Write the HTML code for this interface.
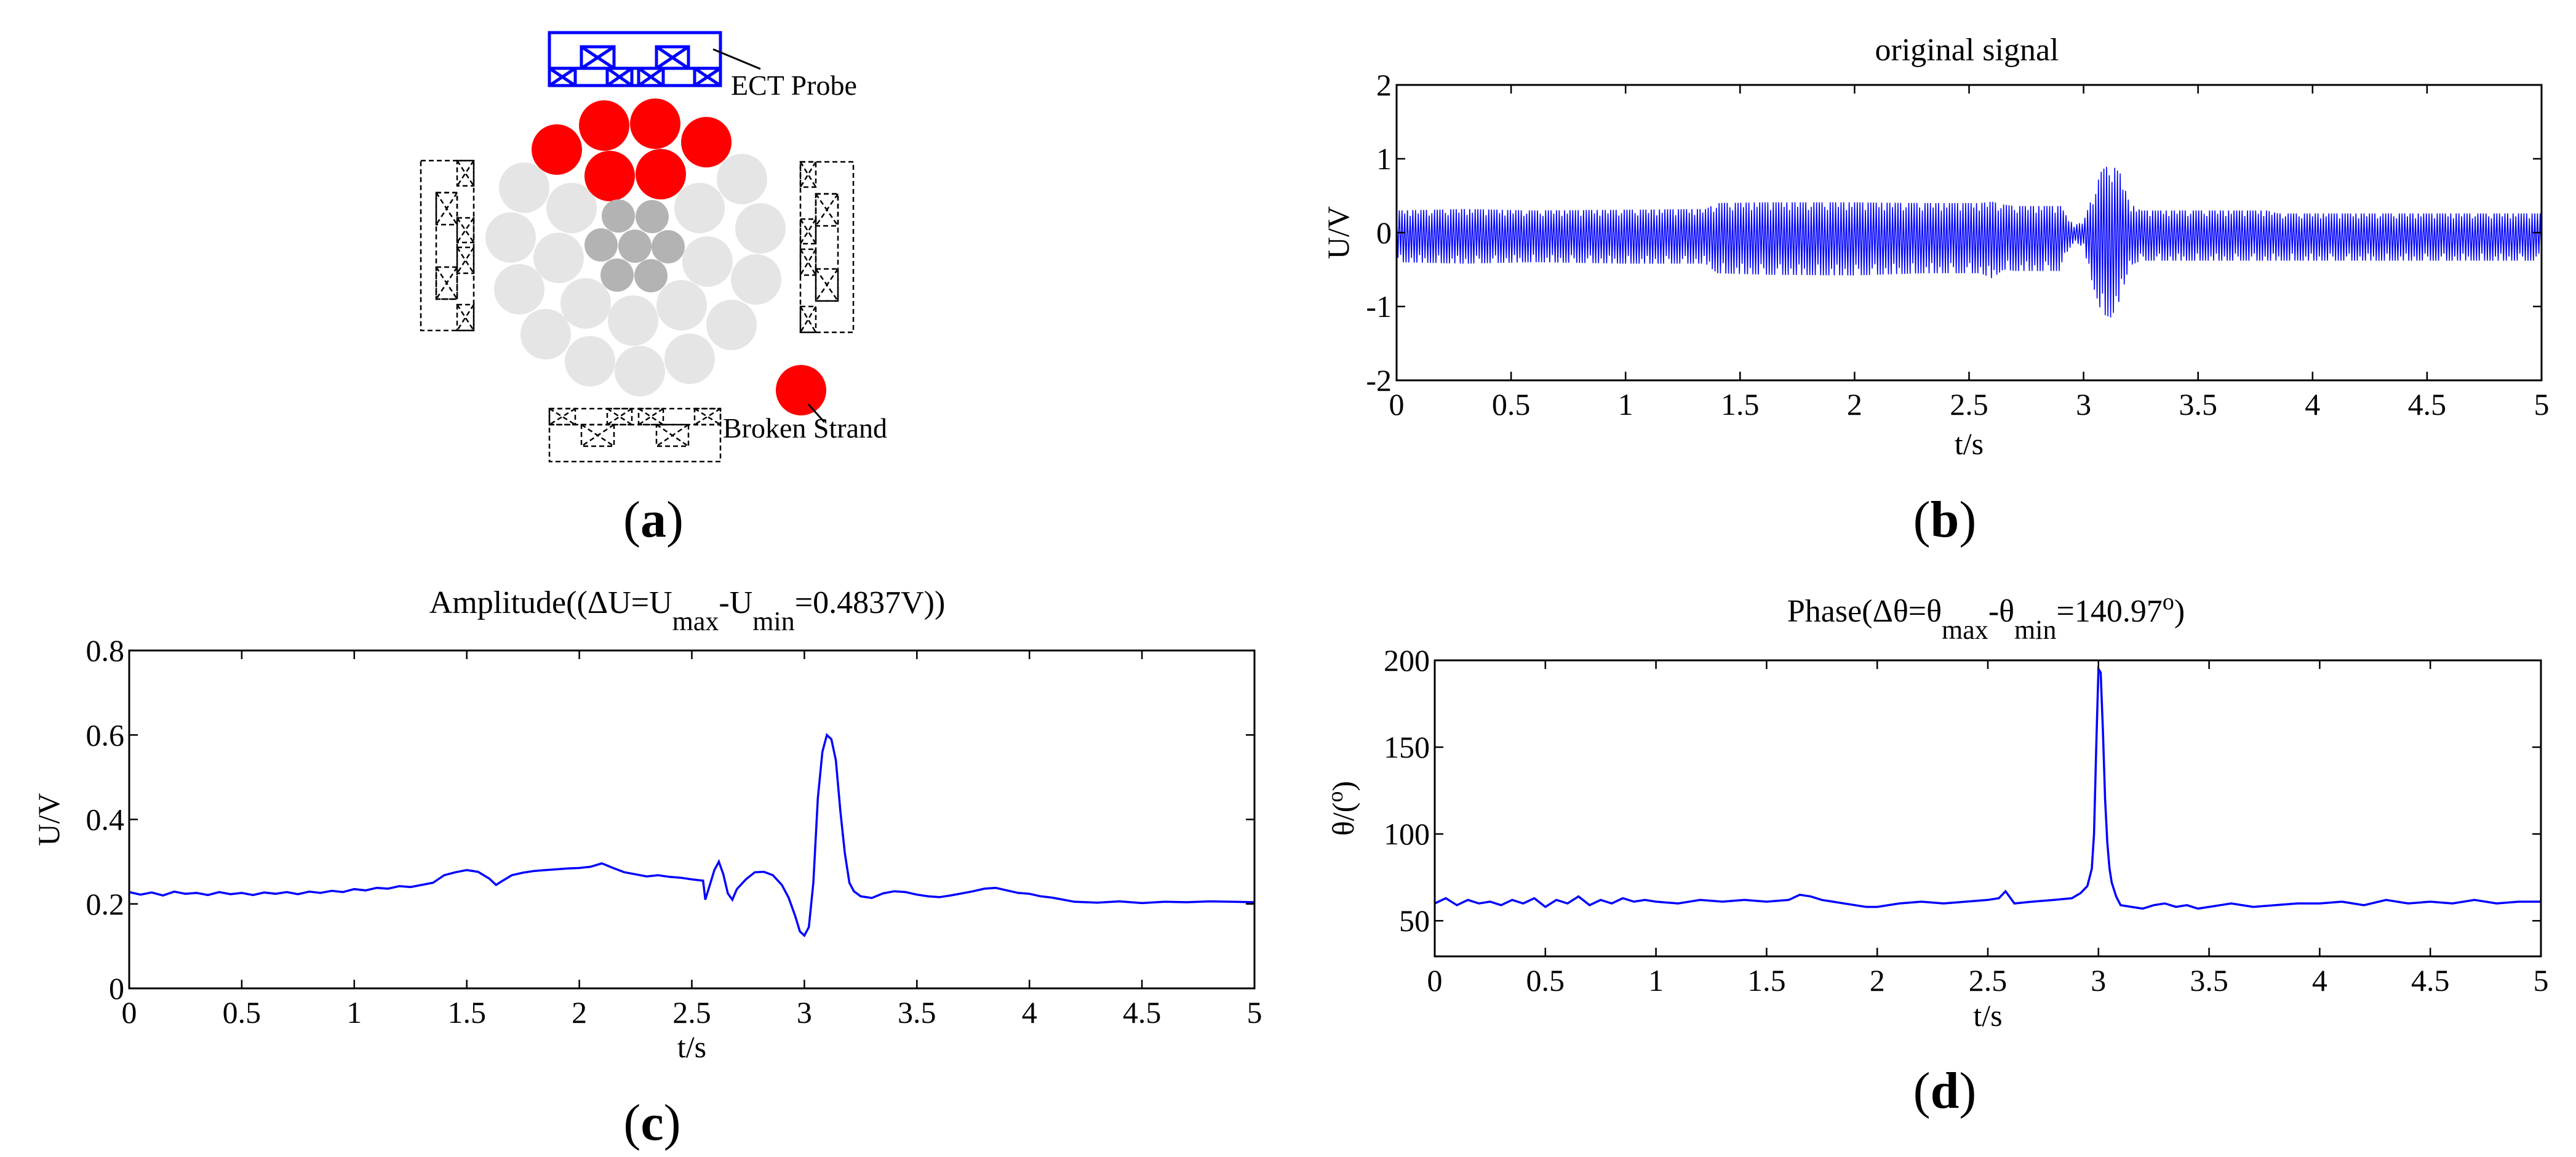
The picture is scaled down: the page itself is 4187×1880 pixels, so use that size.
<!DOCTYPE html>
<html><head><meta charset="utf-8"><style>
html,body{margin:0;padding:0;background:#fff}
svg{display:block}
text{font-family:"Liberation Serif",serif;fill:#000}
</style></head><body>
<svg id="fig" width="4187" height="1880" viewBox="0 0 4187 1880" xmlns="http://www.w3.org/2000/svg">
<g id="diagram">
  <g fill="none" stroke="#0000ff" stroke-width="5">
    <rect x="893" y="53" width="278" height="86"/>
    <line x1="893" y1="111" x2="1171" y2="111"/>
    <rect x="945" y="76" width="53" height="35"/><line x1="945" y1="76" x2="998" y2="111"/><line x1="998" y1="76" x2="945" y2="111"/>
    <rect x="1067" y="76" width="52" height="35"/><line x1="1067" y1="76" x2="1119" y2="111"/><line x1="1119" y1="76" x2="1067" y2="111"/>
    <rect x="893" y="111" width="42" height="28"/><line x1="893" y1="111" x2="935" y2="139"/><line x1="935" y1="111" x2="893" y2="139"/>
    <rect x="987" y="111" width="40" height="28"/><line x1="987" y1="111" x2="1027" y2="139"/><line x1="1027" y1="111" x2="987" y2="139"/>
    <rect x="1038" y="111" width="40" height="28"/><line x1="1038" y1="111" x2="1078" y2="139"/><line x1="1078" y1="111" x2="1038" y2="139"/>
    <rect x="1129" y="111" width="42" height="28"/><line x1="1129" y1="111" x2="1171" y2="139"/><line x1="1171" y1="111" x2="1129" y2="139"/>
  </g>
  <line x1="1159" y1="80" x2="1236" y2="112" stroke="#000" stroke-width="3"/>
  <text x="1188" y="154" font-size="46">ECT Probe</text>
  <g id="strands"></g>
  <g fill="none" stroke="#000" stroke-width="2.5" stroke-dasharray="8,5">
    <rect x="684" y="261" width="86" height="276"/>
    <rect x="709" y="313" width="34" height="173"/>
    <rect x="709" y="313" width="34" height="52"/><line x1="709" y1="313" x2="743" y2="365"/><line x1="743" y1="313" x2="709" y2="365"/>
    <rect x="709" y="434" width="34" height="52"/><line x1="709" y1="434" x2="743" y2="486"/><line x1="743" y1="434" x2="709" y2="486"/>
    <rect x="743" y="261" width="27" height="41"/><line x1="743" y1="261" x2="770" y2="302"/><line x1="770" y1="261" x2="743" y2="302"/>
    <rect x="743" y="354" width="27" height="40"/><line x1="743" y1="354" x2="770" y2="394"/><line x1="770" y1="354" x2="743" y2="394"/>
    <rect x="743" y="402" width="27" height="42"/><line x1="743" y1="402" x2="770" y2="444"/><line x1="770" y1="402" x2="743" y2="444"/>
    <rect x="743" y="495" width="27" height="42"/><line x1="743" y1="495" x2="770" y2="537"/><line x1="770" y1="495" x2="743" y2="537"/>
  </g>
  <g fill="none" stroke="#000" stroke-width="2.5" stroke-dasharray="8,5">
    <rect x="1301" y="263" width="86" height="277"/>
    <rect x="1326" y="315" width="36" height="174"/>
    <rect x="1326" y="315" width="36" height="52"/><line x1="1326" y1="315" x2="1362" y2="367"/><line x1="1362" y1="315" x2="1326" y2="367"/>
    <rect x="1326" y="437" width="36" height="52"/><line x1="1326" y1="437" x2="1362" y2="489"/><line x1="1362" y1="437" x2="1326" y2="489"/>
    <rect x="1301" y="263" width="25" height="41"/><line x1="1301" y1="263" x2="1326" y2="304"/><line x1="1326" y1="263" x2="1301" y2="304"/>
    <rect x="1301" y="356" width="25" height="40"/><line x1="1301" y1="356" x2="1326" y2="396"/><line x1="1326" y1="356" x2="1301" y2="396"/>
    <rect x="1301" y="405" width="25" height="42"/><line x1="1301" y1="405" x2="1326" y2="447"/><line x1="1326" y1="405" x2="1301" y2="447"/>
    <rect x="1301" y="498" width="25" height="42"/><line x1="1301" y1="498" x2="1326" y2="540"/><line x1="1326" y1="498" x2="1301" y2="540"/>
  </g>
  <g fill="none" stroke="#000" stroke-width="2.5" stroke-dasharray="8,5">
    <rect x="893" y="664" width="278" height="86"/>
    <line x1="893" y1="690" x2="1171" y2="690"/>
    <rect x="893" y="664" width="42" height="26"/><line x1="893" y1="664" x2="935" y2="690"/><line x1="935" y1="664" x2="893" y2="690"/>
    <rect x="987" y="664" width="40" height="26"/><line x1="987" y1="664" x2="1027" y2="690"/><line x1="1027" y1="664" x2="987" y2="690"/>
    <rect x="1038" y="664" width="40" height="26"/><line x1="1038" y1="664" x2="1078" y2="690"/><line x1="1078" y1="664" x2="1038" y2="690"/>
    <rect x="1129" y="664" width="42" height="26"/><line x1="1129" y1="664" x2="1171" y2="690"/><line x1="1171" y1="664" x2="1129" y2="690"/>
    <rect x="945" y="690" width="53" height="35"/><line x1="945" y1="690" x2="998" y2="725"/><line x1="998" y1="690" x2="945" y2="725"/>
    <rect x="1067" y="690" width="52" height="35"/><line x1="1067" y1="690" x2="1119" y2="725"/><line x1="1119" y1="690" x2="1067" y2="725"/>
  </g>
  <line x1="1314" y1="657" x2="1340" y2="686" stroke="#000" stroke-width="3"/>
  <text x="1175" y="711" font-size="46">Broken Strand</text>
  <text x="1062" y="872" font-size="84" text-anchor="middle">(<tspan font-weight="bold">a</tspan>)</text>
</g>
<g id="plots"></g>
</svg>
<script>
const lightStrands=[[852,305],[929,338],[830,386],[908,419],[844,470],[952,493],[887,543],[959,587],[1029,521],[1040,603],[1108,496],[1121,583],[1189,528],[1229,454],[1236,371],[1206,291],[1137,338],[1150,425]];
const darkStrands=[[1005,351],[1060,352],[977,398],[1032,400],[1086,401],[1003,447],[1058,448]];
const redStrands=[[905,243],[982,204],[1065,201],[1148,231],[991,286],[1074,283]];
const NS='http://www.w3.org/2000/svg';
function mk(tag,attrs,parent){const e=document.createElementNS(NS,tag);for(const k in attrs)e.setAttribute(k,attrs[k]);parent.appendChild(e);return e;}
const sg=document.getElementById('strands');
lightStrands.forEach(p=>{const c=mk('circle',{cx:p[0],cy:p[1],r:41,fill:'#e5e5e5'},sg);

});
redStrands.forEach(p=>{const c=mk('circle',{cx:p[0],cy:p[1],r:41,fill:'#ff0000'},sg);

});
darkStrands.forEach(p=>{const c=mk('circle',{cx:p[0],cy:p[1],r:27,fill:'#b3b3b3'},sg);

});
{const c=mk('circle',{cx:1302,cy:634,r:41,fill:'#ff0000'},sg);

}

const xTicks=[0,0.5,1,1.5,2,2.5,3,3.5,4,4.5,5];
const xTickLabels=['0','0.5','1','1.5','2','2.5','3','3.5','4','4.5','5'];
const sigT=[0,0.3,0.6,1.0,1.35,1.4,1.6,2.0,2.3,2.55,2.6,2.65,2.7,2.9,2.93,2.96,3.0,3.04,3.08,3.12,3.16,3.2,3.25,3.3,3.8,3.85,4.2,4.6,5.0];
const sigUpper=[0.30,0.32,0.30,0.31,0.32,0.40,0.41,0.41,0.40,0.40,0.42,0.38,0.36,0.36,0.20,0.10,0.15,0.50,0.85,0.93,0.80,0.40,0.30,0.30,0.30,0.26,0.26,0.26,0.26];
const sigLower=[-0.40,-0.42,-0.40,-0.42,-0.42,-0.55,-0.57,-0.58,-0.55,-0.55,-0.62,-0.50,-0.52,-0.52,-0.25,-0.12,-0.20,-0.70,-1.10,-1.15,-0.90,-0.45,-0.38,-0.38,-0.38,-0.38,-0.38,-0.38,-0.38];
const bYTicks=[-2,-1,0,1,2];
const bYTickLabels=['-2','-1','0','1','2'];
const ampT=[0,0.05,0.1,0.15,0.2,0.25,0.3,0.35,0.4,0.45,0.5,0.55,0.6,0.65,0.7,0.75,0.8,0.85,0.9,0.95,1.0,1.05,1.1,1.15,1.2,1.25,1.3,1.35,1.4,1.45,1.5,1.55,1.6,1.63,1.66,1.7,1.75,1.8,1.85,1.9,1.95,2.0,2.05,2.1,2.15,2.2,2.25,2.3,2.35,2.4,2.45,2.5,2.55,2.56,2.58,2.6,2.62,2.64,2.66,2.68,2.7,2.74,2.78,2.82,2.86,2.9,2.93,2.96,2.98,3.0,3.02,3.04,3.06,3.08,3.1,3.12,3.14,3.16,3.18,3.2,3.22,3.25,3.3,3.35,3.4,3.45,3.5,3.55,3.6,3.65,3.7,3.75,3.8,3.85,3.9,3.95,4.0,4.05,4.1,4.15,4.2,4.3,4.4,4.5,4.6,4.7,4.8,4.9,5.0];
const ampV=[0.228,0.222,0.227,0.220,0.229,0.224,0.226,0.221,0.228,0.223,0.226,0.221,0.227,0.224,0.228,0.223,0.229,0.226,0.231,0.228,0.235,0.232,0.238,0.236,0.242,0.240,0.245,0.250,0.268,0.275,0.280,0.276,0.260,0.245,0.255,0.268,0.274,0.278,0.280,0.282,0.284,0.285,0.288,0.296,0.285,0.275,0.270,0.265,0.268,0.264,0.262,0.258,0.255,0.210,0.245,0.280,0.300,0.270,0.225,0.210,0.235,0.258,0.275,0.276,0.268,0.245,0.215,0.170,0.135,0.125,0.145,0.250,0.450,0.560,0.600,0.590,0.540,0.420,0.320,0.250,0.230,0.218,0.214,0.225,0.230,0.228,0.222,0.218,0.216,0.220,0.225,0.230,0.236,0.238,0.232,0.226,0.224,0.218,0.215,0.210,0.205,0.203,0.206,0.202,0.205,0.204,0.206,0.205,0.204];
const cYTicks=[0,0.2,0.4,0.6,0.8];
const cYTickLabels=['0','0.2','0.4','0.6','0.8'];
const phT=[0,0.05,0.1,0.15,0.2,0.25,0.3,0.35,0.4,0.45,0.5,0.55,0.6,0.65,0.7,0.75,0.8,0.85,0.9,0.95,1.0,1.1,1.2,1.3,1.4,1.5,1.6,1.65,1.7,1.75,1.8,1.85,1.9,1.95,2.0,2.1,2.2,2.3,2.4,2.5,2.55,2.58,2.62,2.7,2.8,2.88,2.92,2.95,2.97,2.98,2.99,3.0,3.01,3.02,3.03,3.04,3.05,3.06,3.08,3.1,3.15,3.2,3.25,3.3,3.35,3.4,3.45,3.5,3.55,3.6,3.7,3.8,3.9,4.0,4.1,4.2,4.3,4.4,4.5,4.6,4.7,4.8,4.9,5.0];
const phV=[60,63,59,62,60,61,59,62,60,63,58,62,60,64,59,62,60,63,61,62,61,60,62,61,62,61,62,65,64,62,61,60,59,58,58,60,61,60,61,62,63,67,60,61,62,63,66,70,80,100,150,195,193,160,120,95,80,72,64,59,58,57,59,60,58,59,57,58,59,60,58,59,60,60,61,59,62,60,61,60,62,60,61,61];
const dYTicks=[50,100,150,200];
const dYTickLabels=['50','100','150','200'];

const plots=document.getElementById('plots');
function axes(cfg){
  const g=mk('g',{},plots);
  
  
  const {L,R,T,B,ymin,ymax}=cfg;
  cfg.sx=t=>L+(t-0)/5*(R-L);
  cfg.sy=v=>B-(v-ymin)/(ymax-ymin)*(B-T);
  cfg.g=g;
  return cfg;
}
function frame(cfg,yTicks,yLabels){
  const {g,L,R,T,B,sx,sy}=cfg;
  const box=mk('rect',{x:L,y:T,width:R-L,height:B-T,fill:'none',stroke:'#000','stroke-width':3},g);
  
  
  const tl=14;
  xTicks.forEach((t,i)=>{const x=sx(t);
    mk('line',{x1:x,y1:B,x2:x,y2:B-tl,stroke:'#000','stroke-width':2.5},g);
    mk('line',{x1:x,y1:T,x2:x,y2:T+tl,stroke:'#000','stroke-width':2.5},g);
    const tx=mk('text',{x:x,y:B+56,'font-size':50,'text-anchor':'middle'},g);
    
    
    tx.textContent=xTickLabels[i];});
  yTicks.forEach((v,i)=>{const y=sy(v);
    mk('line',{x1:L,y1:y,x2:L+tl,y2:y,stroke:'#000','stroke-width':2.5},g);
    mk('line',{x1:R,y1:y,x2:R-tl,y2:y,stroke:'#000','stroke-width':2.5},g);
    const tx=mk('text',{x:L-8,y:y+17,'font-size':50,'text-anchor':'end'},g);
    
    
    tx.textContent=yLabels[i];});
  const xt=mk('text',{x:(L+R)/2,y:cfg.xtY,'font-size':50,'text-anchor':'middle'},g);
  
  
  xt.textContent='t/s';
  const pl=mk('text',{x:cfg.plX,y:cfg.plY,'font-size':84,'text-anchor':'middle'},g);
  
  
  pl.innerHTML='(<tspan font-weight="bold">'+cfg.letter+'</tspan>)';
}
function ylabel(cfg,html){
  const yc=(cfg.T+cfg.B)/2;
  const t=mk('text',{x:cfg.ylX,y:yc,'font-size':50,'text-anchor':'middle',transform:'rotate(-90 '+cfg.ylX+' '+yc+')'},cfg.g);
  
  
  t.innerHTML=html;
}
function title(cfg,x,y,html){
  const t=mk('text',{x:x,y:y,'font-size':52,'text-anchor':'middle'},cfg.g);
  
  
  t.innerHTML=html;
}
function linePath(cfg,T,V,name){
  let d='';T.forEach((t,i)=>{d+=(i?'L':'M')+cfg.sx(t).toFixed(1)+','+cfg.sy(V[i]).toFixed(1);});
  const p=mk('path',{d:d,fill:'none',stroke:'#0000ff','stroke-width':3.5},cfg.g);
  
  
}
function interp(T,V,t){for(let i=1;i<T.length;i++){if(t<=T[i]){const f=(t-T[i-1])/(T[i]-T[i-1]);return V[i-1]+f*(V[i]-V[i-1]);}}return V[V.length-1];}

const b=axes({name:'original-signal-chart',L:2270,R:4131,T:138,B:618,ymin:-2,ymax:2,xtY:738,plX:3161,plY:872,letter:'b',ylX:2192});
{
  let d='';const n=Math.floor((b.R-b.L)/2.2);
  for(let k=0;k<=n;k++){const t=k/n*5;const x=b.sx(t);
    const u=interp(sigT,sigUpper,t),l=interp(sigT,sigLower,t);
    const scale=(k%7===3)?0.75:((k%5===1)?0.85:1);
    const v=(k%2===0)?u*scale:l*scale;
    d+=(k?'L':'M')+x.toFixed(1)+','+b.sy(v).toFixed(1);}
  const p=mk('path',{d:d,fill:'none',stroke:'#0000ff','stroke-width':1.6},b.g);
  
  
}
frame(b,bYTicks,bYTickLabels);
ylabel(b,'U/V');
title(b,3197,98,'original signal');

const c=axes({name:'amplitude-chart',L:210,R:2039,T:1057,B:1606,ymin:0,ymax:0.8,xtY:1718,plX:1060,plY:1852,letter:'c',ylX:96});
linePath(c,ampT,ampV,'amplitude-line');
frame(c,cYTicks,cYTickLabels);
ylabel(c,'U/V');
title(c,1117,996,'Amplitude((ΔU=U<tspan dy="28" font-size="44">max</tspan><tspan dy="-28">-U</tspan><tspan dy="28" font-size="44">min</tspan><tspan dy="-28">=0.4837V))</tspan>');

const d=axes({name:'phase-chart',L:2332,R:4130,T:1073,B:1554,ymin:29.5,ymax:200,xtY:1667,plX:3161,plY:1800,letter:'d',ylX:2200});
linePath(d,phT,phV,'phase-line');
frame(d,dYTicks,dYTickLabels);
ylabel(d,'θ/(<tspan dy="-18" font-size="36">o</tspan><tspan dy="18">)</tspan>');
title(d,3228,1010,'Phase(Δθ=θ<tspan dy="28" font-size="44">max</tspan><tspan dy="-28">-θ</tspan><tspan dy="28" font-size="44">min</tspan><tspan dy="-28">=140.97</tspan><tspan dy="-20" font-size="38">o</tspan><tspan dy="20">)</tspan>');
</script>
</body></html>
